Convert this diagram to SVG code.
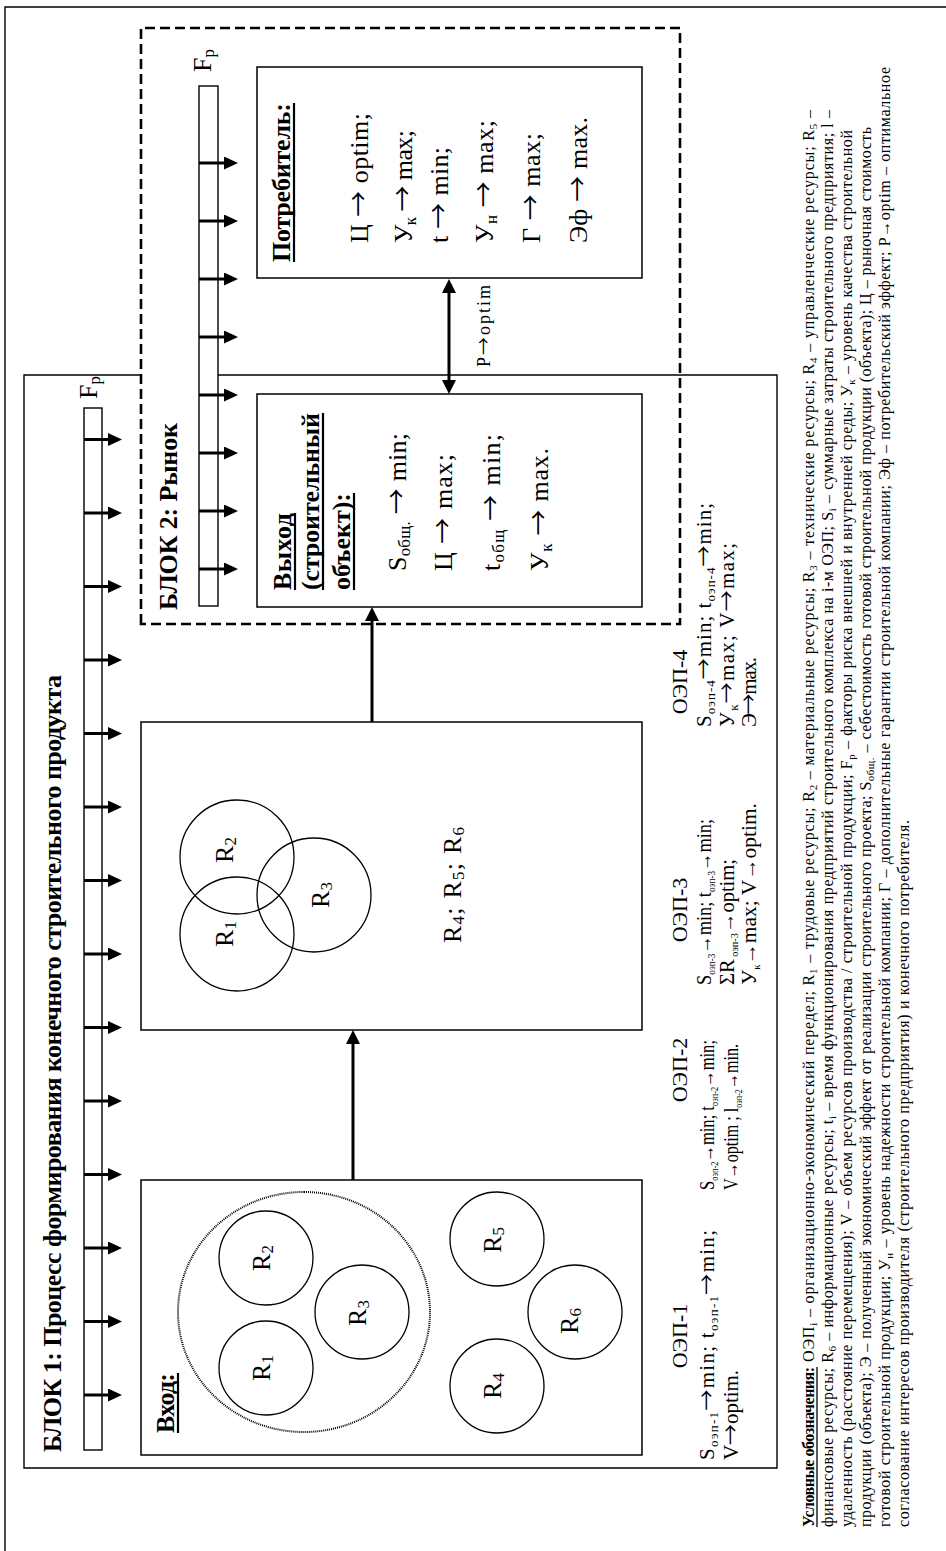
<svg xmlns="http://www.w3.org/2000/svg" width="946" height="1551" viewBox="0 0 946 1551">
<defs>
<style>
text{font-family:"Liberation Serif","Times New Roman",serif;fill:#000;font-size:26px}
.b{font-weight:bold}
.a{font-family:"Noto Sans CJK SC","DejaVu Serif",serif;font-weight:normal}
.ln{fill:none;stroke:#000;stroke-width:1.4}
.box{fill:#fff;stroke:#000;stroke-width:1.5}
.bar{fill:#fff;stroke:#000;stroke-width:1.4}
.dash{fill:none;stroke:#000;stroke-width:2.6;stroke-dasharray:10 5}
.arr{stroke:#000;stroke-width:3;fill:none;marker-end:url(#ah)}
.dbl{stroke:#000;stroke-width:3;fill:none;marker-end:url(#ah);marker-start:url(#ah)}
.fa{stroke:#000;stroke-width:3;marker-end:url(#fh)}
.c{fill:none;stroke:#000;stroke-width:1.3}
.dot{fill:none;stroke:#000;stroke-width:2;stroke-dasharray:1 1}
.ul{stroke:#000;stroke-width:2.2}
.s{font-size:17px}
.o{font-size:22px}
.ot{font-size:21px}
.os{font-size:13px}
.ot2{font-size:20px}
.os2{font-size:10px}
.lg{font-size:16px}
.ls{font-size:11px}
</style>
<marker id="ah" markerUnits="userSpaceOnUse" viewBox="0 0 14 14" markerWidth="14" markerHeight="14" refX="4" refY="7" orient="auto-start-reverse"><path d="M0,0L14,7L0,14z"/></marker>
<marker id="fh" markerUnits="userSpaceOnUse" viewBox="0 0 14 13" markerWidth="14" markerHeight="13" refX="3" refY="6.5" orient="auto"><path d="M0,0L14,6.5L0,13z"/></marker>
</defs>
<rect width="946" height="1551" fill="#fff"/>
<g transform="translate(0,1551) rotate(-90)">
<path id="outer-frame" class="ln" d="M0,5H1544V946"/>

<g id="block1">
<path class="ln" d="M1176,141V24H83V777H1176V199"/>
<text class="b" x="99" y="61" textLength="777" lengthAdjust="spacing">БЛОК 1: Процесс формирования конечного строительного продукта</text>
<rect class="bar" x="101" y="84" width="1042" height="18"/>
<text x="1152" y="97">F<tspan class="s" dy="3">р</tspan></text>
</g>

<g id="block2">
<rect class="dash" x="927" y="141" width="596" height="539"/>
<text class="b" x="941" y="177" textLength="187" lengthAdjust="spacing">БЛОК 2: Рынок</text>
<rect class="bar" x="945" y="199" width="520" height="19"/>
<text x="1479" y="211">F<tspan class="s" dy="3">р</tspan></text>
</g>

<g id="risk-arrows">
<line class="fa" x1="156" y1="84" x2="156" y2="111"/>
<line class="fa" x1="229.5" y1="84" x2="229.5" y2="111"/>
<line class="fa" x1="303" y1="84" x2="303" y2="111"/>
<line class="fa" x1="376.5" y1="84" x2="376.5" y2="111"/>
<line class="fa" x1="450" y1="84" x2="450" y2="111"/>
<line class="fa" x1="523.5" y1="84" x2="523.5" y2="111"/>
<line class="fa" x1="597" y1="84" x2="597" y2="111"/>
<line class="fa" x1="670.5" y1="84" x2="670.5" y2="111"/>
<line class="fa" x1="744" y1="84" x2="744" y2="111"/>
<line class="fa" x1="817.5" y1="84" x2="817.5" y2="111"/>
<line class="fa" x1="891" y1="84" x2="891" y2="111"/>
<line class="fa" x1="964.5" y1="84" x2="964.5" y2="111"/>
<line class="fa" x1="1038" y1="84" x2="1038" y2="111"/>
<line class="fa" x1="1111.5" y1="84" x2="1111.5" y2="111"/>
<line class="fa" x1="982" y1="199" x2="982" y2="227"/>
<line class="fa" x1="1040" y1="199" x2="1040" y2="227"/>
<line class="fa" x1="1098" y1="199" x2="1098" y2="227"/>
<line class="fa" x1="1156" y1="199" x2="1156" y2="227"/>
<line class="fa" x1="1214" y1="199" x2="1214" y2="227"/>
<line class="fa" x1="1272" y1="199" x2="1272" y2="227"/>
<line class="fa" x1="1330" y1="199" x2="1330" y2="227"/>
<line class="fa" x1="1388" y1="199" x2="1388" y2="227"/>
</g>

<g id="input">
<rect class="box" x="96" y="141" width="275" height="501"/>
<text class="b" x="118" y="174" textLength="60" lengthAdjust="spacing">Вход:</text>
<line class="ul" x1="118" y1="178" x2="178" y2="178"/>
<ellipse class="dot" cx="239" cy="304" rx="120" ry="126"/>
<circle class="c" cx="183" cy="266" r="47"/>
<circle class="c" cx="293" cy="266" r="47"/>
<circle class="c" cx="239" cy="362" r="47"/>
<circle class="c" cx="165" cy="497" r="47"/>
<circle class="c" cx="312" cy="497" r="47"/>
<circle class="c" cx="239" cy="575" r="47"/>
<text x="183" y="270" text-anchor="middle">R<tspan class="s" dy="3">1</tspan></text>
<text x="293" y="270" text-anchor="middle">R<tspan class="s" dy="3">2</tspan></text>
<text x="238" y="366" text-anchor="middle">R<tspan class="s" dy="3">3</tspan></text>
<text x="165" y="501" text-anchor="middle">R<tspan class="s" dy="3">4</tspan></text>
<text x="311" y="501" text-anchor="middle">R<tspan class="s" dy="3">5</tspan></text>
<text x="230" y="578" text-anchor="middle">R<tspan class="s" dy="3">6</tspan></text>
</g>

<g id="process">
<rect class="box" x="521" y="141" width="308" height="501"/>
<circle class="c" cx="617" cy="237" r="57"/>
<circle class="c" cx="694" cy="237" r="57"/>
<circle class="c" cx="656" cy="314" r="57"/>
<text x="617" y="233" text-anchor="middle">R<tspan class="s" dy="3">1</tspan></text>
<text x="701" y="233" text-anchor="middle">R<tspan class="s" dy="3">2</tspan></text>
<text x="656" y="329" text-anchor="middle">R<tspan class="s" dy="3">3</tspan></text>
<text x="608" y="461" textLength="116" lengthAdjust="spacing">R<tspan class="s" dy="3">4</tspan><tspan dy="-3">;  R</tspan><tspan class="s" dy="3">5</tspan><tspan dy="-3">;  R</tspan><tspan class="s" dy="3">6</tspan></text>
</g>

<g id="output">
<rect class="box" x="944" y="257" width="213" height="385"/>
<text class="b" x="961" y="291" textLength="77" lengthAdjust="spacing">Выход</text>
<line class="ul" x1="961" y1="295" x2="1038" y2="295"/>
<text class="b" x="961" y="319" textLength="177" lengthAdjust="spacing">(строительный</text>
<line class="ul" x1="961" y1="323" x2="1138" y2="323"/>
<text class="b" x="961" y="350" textLength="97" lengthAdjust="spacing">объект):</text>
<line class="ul" x1="961" y1="354" x2="1058" y2="354"/>
<text x="980" y="406" textLength="138" lengthAdjust="spacing">S<tspan class="s" dy="4">общ.</tspan><tspan dy="-4"> </tspan><tspan class="a">→</tspan> min;</text>
<text x="980" y="452" textLength="117" lengthAdjust="spacing">Ц <tspan class="a">→</tspan> max;</text>
<text x="980" y="500" textLength="137" lengthAdjust="spacing">t<tspan class="s" dy="4">общ</tspan><tspan dy="-4"> </tspan><tspan class="a">→</tspan> min;</text>
<text x="980" y="548" textLength="123" lengthAdjust="spacing">У<tspan class="s" dy="4">к</tspan><tspan dy="-4"> </tspan><tspan class="a">→</tspan> max.</text>
</g>

<g id="consumer">
<rect class="box" x="1273" y="257" width="211" height="385"/>
<text class="b" x="1289" y="290" textLength="159" lengthAdjust="spacing">Потребитель:</text>
<line class="ul" x1="1289" y1="294" x2="1448" y2="294"/>
<text x="1308" y="368" textLength="130" lengthAdjust="spacing">Ц <tspan class="a">→</tspan> optim;</text>
<text x="1308" y="412" textLength="113" lengthAdjust="spacing">У<tspan class="s" dy="4">к</tspan><tspan dy="-4"> </tspan><tspan class="a">→</tspan> max;</text>
<text x="1308" y="448" textLength="96" lengthAdjust="spacing">t <tspan class="a">→</tspan> min;</text>
<text x="1308" y="493" textLength="123" lengthAdjust="spacing">У<tspan class="s" dy="4">н</tspan><tspan dy="-4"> </tspan><tspan class="a">→</tspan> max;</text>
<text x="1308" y="540" textLength="110" lengthAdjust="spacing">Г <tspan class="a">→</tspan> max;</text>
<text x="1308" y="587" textLength="126" lengthAdjust="spacing">Эф <tspan class="a">→</tspan> max.</text>
</g>

<g id="connectors">
<line class="arr" x1="371" y1="353" x2="511" y2="353"/>
<line class="arr" x1="829" y1="372" x2="934" y2="372"/>
<line class="dbl" x1="1167" y1="449" x2="1262" y2="449"/>
<text x="1184" y="490" textLength="82" lengthAdjust="spacing" style="font-size:18px">P<tspan class="a">→</tspan>optim</text>
</g>

<g id="oep-labels">
<text class="o" x="215" y="687" text-anchor="middle">ОЭП-1</text>
<text class="ot" x="91" y="714" textLength="230" lengthAdjust="spacing">S<tspan class="os" dy="4">оэп-1</tspan><tspan dy="-4" class="a">→</tspan>min; t<tspan class="os" dy="4">оэп-1</tspan><tspan dy="-4" class="a">→</tspan>min;</text>
<text class="ot" x="91" y="738" textLength="90" lengthAdjust="spacing">V<tspan class="a">→</tspan>optim.</text>
<text class="o" x="481" y="687" text-anchor="middle">ОЭП-2</text>
<text class="ot2" x="361" y="714" textLength="150" lengthAdjust="spacingAndGlyphs">S<tspan class="os2" dy="4">оэп-2</tspan><tspan dy="-4">→min; t</tspan><tspan class="os2" dy="4">оэп-2</tspan><tspan dy="-4">→min;</tspan></text>
<text class="ot2" x="361" y="738" textLength="146" lengthAdjust="spacingAndGlyphs">V→optim ; l<tspan class="os2" dy="4">оэп-2</tspan><tspan dy="-4">→min.</tspan></text>
<text class="o" x="641" y="687" text-anchor="middle">ОЭП-3</text>
<text class="ot2" x="566" y="711" textLength="166" lengthAdjust="spacingAndGlyphs">S<tspan class="os2" dy="4">оэп-3</tspan><tspan dy="-4">→min; t</tspan><tspan class="os2" dy="4">оэп-3</tspan><tspan dy="-4">→min;</tspan></text>
<text class="ot2" x="566" y="734" textLength="126" lengthAdjust="spacingAndGlyphs">ΣR<tspan class="os2" dy="4"> оэп-3</tspan><tspan dy="-4">→optim;</tspan></text>
<text class="ot2" x="566" y="756" textLength="182" lengthAdjust="spacingAndGlyphs">У<tspan class="os2" dy="4">к</tspan><tspan dy="-4">→max; V→optim.</tspan></text>
<text class="o" x="869" y="687" text-anchor="middle">ОЭП-4</text>
<text class="ot" x="824" y="711" textLength="224" lengthAdjust="spacing">S<tspan class="os" dy="4">оэп-4</tspan><tspan dy="-4" class="a">→</tspan>min; t<tspan class="os" dy="4">оэп-4</tspan><tspan dy="-4" class="a">→</tspan>min;</text>
<text class="ot" x="824" y="734" textLength="184" lengthAdjust="spacing">У<tspan class="os" dy="4">к</tspan><tspan dy="-4" class="a">→</tspan>max; V<tspan class="a">→</tspan>max;</text>
<text class="ot" x="824" y="756" textLength="70" lengthAdjust="spacing">Э<tspan class="a">→</tspan>max.</text>
</g>

<g id="legend">
<text class="lg b" x="24" y="814" textLength="160" lengthAdjust="spacing">Условные обозначения:</text>
<line x1="24" y1="817" x2="184" y2="817" stroke="#000" stroke-width="1.3"/>
<text class="lg" x="189" y="814" textLength="1252" lengthAdjust="spacing">ОЭП<tspan class="ls" dy="3">i</tspan><tspan dy="-3"> – организационно-экономический передел; R</tspan><tspan class="ls" dy="3">1</tspan><tspan dy="-3"> – трудовые ресурсы; R</tspan><tspan class="ls" dy="3">2</tspan><tspan dy="-3"> – материальные ресурсы; R</tspan><tspan class="ls" dy="3">3</tspan><tspan dy="-3"> – технические ресурсы; R</tspan><tspan class="ls" dy="3">4</tspan><tspan dy="-3"> – управленческие ресурсы; R</tspan><tspan class="ls" dy="3">5</tspan><tspan dy="-3"> –</tspan></text>
<text class="lg" x="24" y="833" textLength="1417" lengthAdjust="spacing">финансовые ресурсы; R<tspan class="ls" dy="3">6</tspan><tspan dy="-3"> – информационные ресурсы;  t</tspan><tspan class="ls" dy="3">i</tspan><tspan dy="-3"> – время функционирования предприятий строительного комплекса на i-м ОЭП; S</tspan><tspan class="ls" dy="3">i</tspan><tspan dy="-3"> – суммарные затраты строительного предприятия; l –</tspan></text>
<text class="lg" x="24" y="852" textLength="1397" lengthAdjust="spacing">удаленность (расстояние перемещения); V – объем ресурсов производства / строительной продукции; F<tspan class="ls" dy="3">р</tspan><tspan dy="-3"> – факторы риска внешней и внутренней среды; У</tspan><tspan class="ls" dy="3">к</tspan><tspan dy="-3"> – уровень качества строительной</tspan></text>
<text class="lg" x="24" y="871" textLength="1400" lengthAdjust="spacing">продукции (объекта); Э – полученный экономический эффект от реализации строительного проекта; S<tspan class="ls" dy="3">общ.</tspan><tspan dy="-3"> – себестоимость готовой строительной продукции (объекта); Ц – рыночная стоимость</tspan></text>
<text class="lg" x="24" y="890" textLength="1460" lengthAdjust="spacing">готовой строительной продукции; У<tspan class="ls" dy="3">н</tspan><tspan dy="-3"> – уровень надежности строительной компании; Г – дополнительные гарантии строительной компании; Эф – потребительский эффект;  P→optim – оптимальное</tspan></text>
<text class="lg" x="24" y="909" textLength="707" lengthAdjust="spacing">согласование интересов производителя (строительного предприятия) и конечного потребителя.</text>
</g>
</g>
</svg>
